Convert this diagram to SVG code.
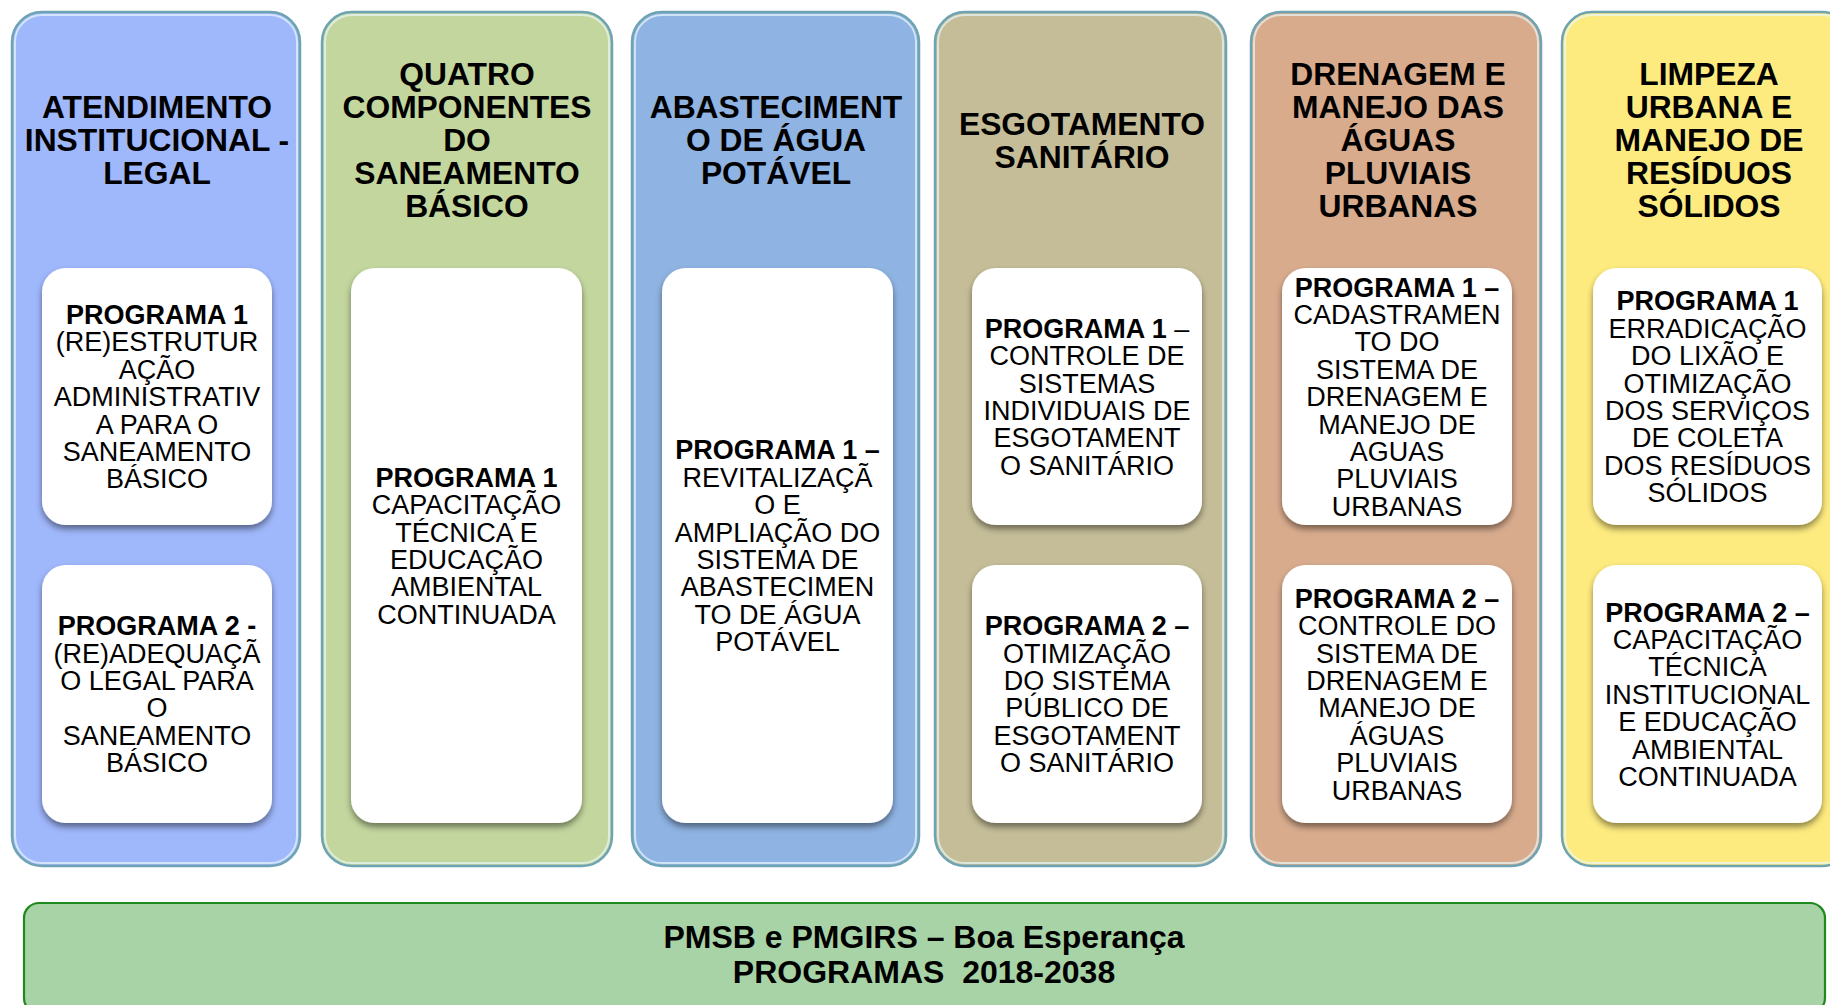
<svg xmlns="http://www.w3.org/2000/svg" width="1830" height="1005" viewBox="0 0 1830 1005">
<defs>
<filter id="sh" x="-10%" y="-10%" width="120%" height="125%">
<feDropShadow dx="0" dy="4" stdDeviation="3" flood-color="#000" flood-opacity="0.45"/>
</filter>
</defs>
<style>
.col{stroke:#6ea3b3;stroke-width:2.5}
.hl{fill:none;stroke:#e8f8fb;stroke-opacity:0.7;stroke-width:2}
.box{fill:#fff;filter:url(#sh)}
text{font-family:"Liberation Sans",Arial,sans-serif;fill:#000;text-anchor:middle}
.t{font-size:31.8px;font-weight:bold}
.b{font-size:27px}
.bb{font-weight:bold}
.f{font-size:32px;font-weight:bold;white-space:pre}
</style>
<rect width="1830" height="1005" fill="#fff"/>

<g id="col1">
<rect class="col" x="12" y="12" width="288" height="854" rx="30" fill="#9fb7fb"/>
<rect class="hl" x="15" y="15" width="282" height="848" rx="27"/>
<text class="t" y="118.4"><tspan x="157">ATENDIMENTO</tspan><tspan x="157" dy="33">INSTITUCIONAL -</tspan><tspan x="157" dy="33">LEGAL</tspan></text>
<g id="col1-p1">
<rect class="box" x="42" y="268" width="230" height="257" rx="24"/>
<text class="b" y="324"><tspan x="157" class="bb">PROGRAMA 1</tspan><tspan x="157" dy="27.4">(RE)ESTRUTUR</tspan><tspan x="157" dy="27.4">AÇÃO</tspan><tspan x="157" dy="27.4">ADMINISTRATIV</tspan><tspan x="157" dy="27.4">A PARA O</tspan><tspan x="157" dy="27.4">SANEAMENTO</tspan><tspan x="157" dy="27.4">BÁSICO</tspan></text>
</g>
<g id="col1-p2">
<rect class="box" x="42" y="565" width="230" height="258" rx="24"/>
<text class="b" y="635.2"><tspan x="157" class="bb">PROGRAMA 2 -</tspan><tspan x="157" dy="27.4">(RE)ADEQUAÇÃ</tspan><tspan x="157" dy="27.4">O LEGAL PARA</tspan><tspan x="157" dy="27.4">O</tspan><tspan x="157" dy="27.4">SANEAMENTO</tspan><tspan x="157" dy="27.4">BÁSICO</tspan></text>
</g>
</g>

<g id="col2">
<rect class="col" x="322" y="12" width="290" height="854" rx="30" fill="#c3d69e"/>
<rect class="hl" x="325" y="15" width="284" height="848" rx="27"/>
<text class="t" y="85.4"><tspan x="467">QUATRO</tspan><tspan x="467" dy="33">COMPONENTES</tspan><tspan x="467" dy="33">DO</tspan><tspan x="467" dy="33">SANEAMENTO</tspan><tspan x="467" dy="33">BÁSICO</tspan></text>
<g id="col2-p1">
<rect class="box" x="351" y="268" width="231" height="555" rx="24"/>
<text class="b" y="486.7"><tspan x="466.5" class="bb">PROGRAMA 1</tspan><tspan x="466.5" dy="27.4">CAPACITAÇÃO</tspan><tspan x="466.5" dy="27.4">TÉCNICA E</tspan><tspan x="466.5" dy="27.4">EDUCAÇÃO</tspan><tspan x="466.5" dy="27.4">AMBIENTAL</tspan><tspan x="466.5" dy="27.4">CONTINUADA</tspan></text>
</g>
</g>

<g id="col3">
<rect class="col" x="632" y="12" width="287" height="854" rx="30" fill="#8fb3e2"/>
<rect class="hl" x="635" y="15" width="281" height="848" rx="27"/>
<text class="t" y="118.4"><tspan x="776">ABASTECIMENT</tspan><tspan x="776" dy="33">O DE ÁGUA</tspan><tspan x="776" dy="33">POTÁVEL</tspan></text>
<g id="col3-p1">
<rect class="box" x="662" y="268" width="231" height="555" rx="24"/>
<text class="b" y="459.3"><tspan x="777.5" class="bb">PROGRAMA 1 –</tspan><tspan x="777.5" dy="27.4">REVITALIZAÇÃ</tspan><tspan x="777.5" dy="27.4">O E</tspan><tspan x="777.5" dy="27.4">AMPLIAÇÃO DO</tspan><tspan x="777.5" dy="27.4">SISTEMA DE</tspan><tspan x="777.5" dy="27.4">ABASTECIMEN</tspan><tspan x="777.5" dy="27.4">TO DE ÁGUA</tspan><tspan x="777.5" dy="27.4">POTÁVEL</tspan></text>
</g>
</g>

<g id="col4">
<rect class="col" x="935" y="12" width="291" height="854" rx="30" fill="#c4bd98"/>
<rect class="hl" x="938" y="15" width="285" height="848" rx="27"/>
<text class="t" y="134.9"><tspan x="1082">ESGOTAMENTO</tspan><tspan x="1082" dy="33">SANITÁRIO</tspan></text>
<g id="col4-p1">
<rect class="box" x="972" y="268" width="230" height="257" rx="24"/>
<text class="b" y="337.7"><tspan x="1087"><tspan class="bb">PROGRAMA 1</tspan> –</tspan><tspan x="1087" dy="27.4">CONTROLE DE</tspan><tspan x="1087" dy="27.4">SISTEMAS</tspan><tspan x="1087" dy="27.4">INDIVIDUAIS DE</tspan><tspan x="1087" dy="27.4">ESGOTAMENT</tspan><tspan x="1087" dy="27.4">O SANITÁRIO</tspan></text>
</g>
<g id="col4-p2">
<rect class="box" x="972" y="565" width="230" height="258" rx="24"/>
<text class="b" y="635.2"><tspan x="1087" class="bb">PROGRAMA 2 –</tspan><tspan x="1087" dy="27.4">OTIMIZAÇÃO</tspan><tspan x="1087" dy="27.4">DO SISTEMA</tspan><tspan x="1087" dy="27.4">PÚBLICO DE</tspan><tspan x="1087" dy="27.4">ESGOTAMENT</tspan><tspan x="1087" dy="27.4">O SANITÁRIO</tspan></text>
</g>
</g>

<g id="col5">
<rect class="col" x="1251" y="12" width="290" height="854" rx="30" fill="#d8ab8d"/>
<rect class="hl" x="1254" y="15" width="284" height="848" rx="27"/>
<text class="t" y="85.4"><tspan x="1398">DRENAGEM E</tspan><tspan x="1398" dy="33">MANEJO DAS</tspan><tspan x="1398" dy="33">ÁGUAS</tspan><tspan x="1398" dy="33">PLUVIAIS</tspan><tspan x="1398" dy="33">URBANAS</tspan></text>
<g id="col5-p1">
<rect class="box" x="1282" y="268" width="230" height="257" rx="24"/>
<text class="b" y="296.6"><tspan x="1397" class="bb">PROGRAMA 1 –</tspan><tspan x="1397" dy="27.4">CADASTRAMEN</tspan><tspan x="1397" dy="27.4">TO DO</tspan><tspan x="1397" dy="27.4">SISTEMA DE</tspan><tspan x="1397" dy="27.4">DRENAGEM E</tspan><tspan x="1397" dy="27.4">MANEJO DE</tspan><tspan x="1397" dy="27.4">AGUAS</tspan><tspan x="1397" dy="27.4">PLUVIAIS</tspan><tspan x="1397" dy="27.4">URBANAS</tspan></text>
</g>
<g id="col5-p2">
<rect class="box" x="1282" y="565" width="230" height="258" rx="24"/>
<text class="b" y="607.8"><tspan x="1397" class="bb">PROGRAMA 2 –</tspan><tspan x="1397" dy="27.4">CONTROLE DO</tspan><tspan x="1397" dy="27.4">SISTEMA DE</tspan><tspan x="1397" dy="27.4">DRENAGEM E</tspan><tspan x="1397" dy="27.4">MANEJO DE</tspan><tspan x="1397" dy="27.4">ÁGUAS</tspan><tspan x="1397" dy="27.4">PLUVIAIS</tspan><tspan x="1397" dy="27.4">URBANAS</tspan></text>
</g>
</g>

<g id="col6">
<rect class="col" x="1562" y="12" width="290" height="854" rx="30" fill="#fdeb7f"/>
<rect class="hl" x="1565" y="15" width="284" height="848" rx="27"/>
<text class="t" y="85.4"><tspan x="1709">LIMPEZA</tspan><tspan x="1709" dy="33">URBANA E</tspan><tspan x="1709" dy="33">MANEJO DE</tspan><tspan x="1709" dy="33">RESÍDUOS</tspan><tspan x="1709" dy="33">SÓLIDOS</tspan></text>
<g id="col6-p1">
<rect class="box" x="1593" y="268" width="229" height="257" rx="24"/>
<text class="b" y="310.3"><tspan x="1707.5" class="bb">PROGRAMA 1</tspan><tspan x="1707.5" dy="27.4">ERRADICAÇÃO</tspan><tspan x="1707.5" dy="27.4">DO LIXÃO E</tspan><tspan x="1707.5" dy="27.4">OTIMIZAÇÃO</tspan><tspan x="1707.5" dy="27.4">DOS SERVIÇOS</tspan><tspan x="1707.5" dy="27.4">DE COLETA</tspan><tspan x="1707.5" dy="27.4">DOS RESÍDUOS</tspan><tspan x="1707.5" dy="27.4">SÓLIDOS</tspan></text>
</g>
<g id="col6-p2">
<rect class="box" x="1593" y="565" width="229" height="258" rx="24"/>
<text class="b" y="621.5"><tspan x="1707.5" class="bb">PROGRAMA 2 –</tspan><tspan x="1707.5" dy="27.4">CAPACITAÇÃO</tspan><tspan x="1707.5" dy="27.4">TÉCNICA</tspan><tspan x="1707.5" dy="27.4">INSTITUCIONAL</tspan><tspan x="1707.5" dy="27.4">E EDUCAÇÃO</tspan><tspan x="1707.5" dy="27.4">AMBIENTAL</tspan><tspan x="1707.5" dy="27.4">CONTINUADA</tspan></text>
</g>
</g>

<g id="footer">
<rect x="24" y="903" width="1801" height="110" rx="15" fill="#a8d3a6" stroke="#1e8a1e" stroke-width="2.2"/>
<text class="f" x="924" y="948">PMSB e PMGIRS – Boa Esperança</text>
<text class="f" x="924" y="983">PROGRAMAS  2018-2038</text>
</g>

<g id="connectors"/>
</svg>
